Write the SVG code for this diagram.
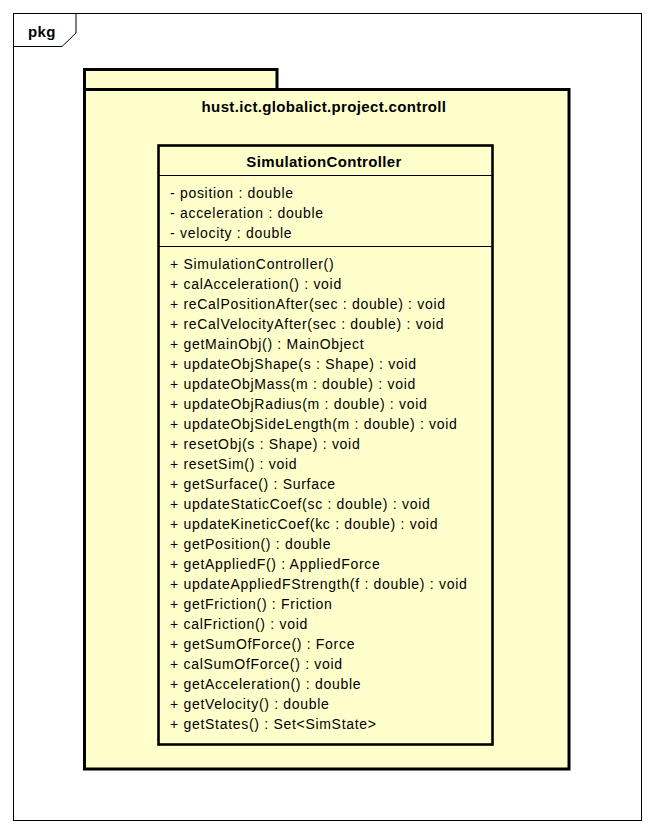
<svg xmlns="http://www.w3.org/2000/svg" width="654" height="834" viewBox="0 0 654 834">
<style>
.frame{fill:none;stroke:#000;stroke-width:1}
.pkg{fill:#FFFFCC;stroke:#000;stroke-width:3}
.cls{fill:#FFFFCC;stroke:#000;stroke-width:2.6}
.sep{stroke:#000;stroke-width:1}
.b{font-family:"Liberation Sans",Arial,sans-serif;font-weight:bold;font-size:15px;fill:#000;letter-spacing:0.35px}
.t{font-family:"Liberation Sans",Arial,sans-serif;font-size:14px;fill:#000;letter-spacing:0.7px}
</style>
<rect width="654" height="834" fill="#fff"/>
<g id="frame">
<rect class="frame" x="13.5" y="13.5" width="628" height="807"/>
<path class="frame" d="M13.5,46.5 H62 L76,33 V13.5"/>
<text class="b" x="28" y="37.3">pkg</text>
</g>
<g id="package">
<rect class="pkg" x="84.5" y="69.5" width="192.5" height="20"/>
<rect class="pkg" x="84.5" y="89.5" width="484.5" height="679.5"/>
<text class="b" x="324" y="111.5" text-anchor="middle">hust.ict.globalict.project.controll</text>
</g>
<g id="SimulationController">
<rect class="cls" x="158.5" y="145.5" width="334" height="599"/>
<line class="sep" x1="158.5" y1="175.5" x2="492.5" y2="175.5"/>
<line class="sep" x1="158.5" y1="246.5" x2="492.5" y2="246.5"/>
<text class="b" x="324" y="167.3" text-anchor="middle">SimulationController</text>
<text class="t" x="170">
<tspan x="170" y="197.5">- position : double</tspan>
<tspan x="170" y="217.7">- acceleration : double</tspan>
<tspan x="170" y="237.9">- velocity : double</tspan>
</text>
<text class="t" x="170">
<tspan x="170" y="269.3">+ SimulationController()</tspan>
<tspan x="170" y="289.3">+ calAcceleration() : void</tspan>
<tspan x="170" y="309.3">+ reCalPositionAfter(sec : double) : void</tspan>
<tspan x="170" y="329.3">+ reCalVelocityAfter(sec : double) : void</tspan>
<tspan x="170" y="349.3">+ getMainObj() : MainObject</tspan>
<tspan x="170" y="369.3">+ updateObjShape(s : Shape) : void</tspan>
<tspan x="170" y="389.3">+ updateObjMass(m : double) : void</tspan>
<tspan x="170" y="409.3">+ updateObjRadius(m : double) : void</tspan>
<tspan x="170" y="429.3">+ updateObjSideLength(m : double) : void</tspan>
<tspan x="170" y="449.3">+ resetObj(s : Shape) : void</tspan>
<tspan x="170" y="469.3">+ resetSim() : void</tspan>
<tspan x="170" y="489.3">+ getSurface() : Surface</tspan>
<tspan x="170" y="509.3">+ updateStaticCoef(sc : double) : void</tspan>
<tspan x="170" y="529.3">+ updateKineticCoef(kc : double) : void</tspan>
<tspan x="170" y="549.3">+ getPosition() : double</tspan>
<tspan x="170" y="569.3">+ getAppliedF() : AppliedForce</tspan>
<tspan x="170" y="589.3">+ updateAppliedFStrength(f : double) : void</tspan>
<tspan x="170" y="609.3">+ getFriction() : Friction</tspan>
<tspan x="170" y="629.3">+ calFriction() : void</tspan>
<tspan x="170" y="649.3">+ getSumOfForce() : Force</tspan>
<tspan x="170" y="669.3">+ calSumOfForce() : void</tspan>
<tspan x="170" y="689.3">+ getAcceleration() : double</tspan>
<tspan x="170" y="709.3">+ getVelocity() : double</tspan>
<tspan x="170" y="729.3">+ getStates() : Set&lt;SimState&gt;</tspan>
</text>
</g>
<g id="connectors"></g>
</svg>
